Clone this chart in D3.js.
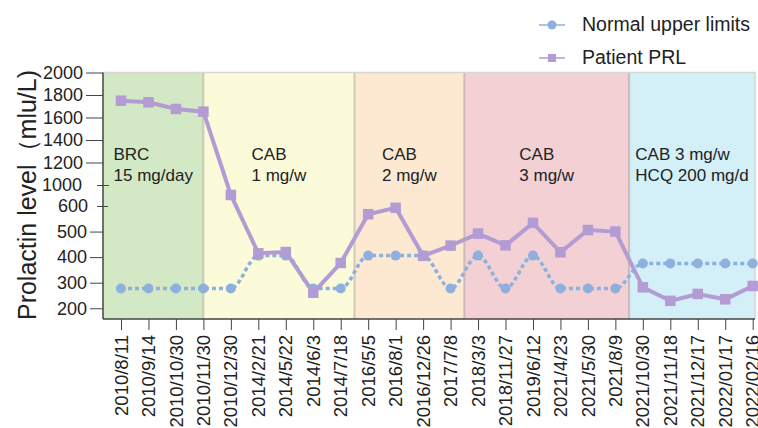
<!DOCTYPE html>
<html>
<head>
<meta charset="utf-8">
<script src="https://cdn.jsdelivr.net/npm/d3@7"></script>
<style>
body { margin: 0; background: #fff; }
text { font-family: "Liberation Sans", Arial, sans-serif; fill: #222; }
</style>
</head>
<body>
<div id="chart"></div>
<script>
// sampling dates (x categories)
var dates = ["2010/8/11", "2010/9/14", "2010/10/30", "2010/11/30", "2010/12/30",
  "2014/2/21", "2014/5/22", "2014/6/3", "2014/7/18", "2016/5/5", "2016/8/1",
  "2016/12/26", "2017/7/8", "2018/3/3", "2018/11/27", "2019/6/12", "2021/4/23",
  "2021/5/30", "2021/8/9", "2021/10/30", "2021/11/18", "2021/12/17",
  "2022/01/17", "2022/02/16"];

// mIU/L
var normalUpper = [277, 277, 277, 277, 277, 406, 406, 277, 277, 406, 406, 406,
  277, 406, 277, 406, 277, 277, 277, 375, 375, 375, 375, 375];
var patientPRL = [1749, 1735, 1676, 1652, 810, 415, 420, 261, 377, 568, 593, 405,
  445, 492, 446, 534, 419, 506, 500, 282, 229, 256, 235, 287];

// broken y axis
var yTicksLow = [200, 300, 400, 500];
var yTicksHigh = [1200, 1400, 1600, 1800, 2000];

// treatment phases; edges given as positions on the date index
var phaseLines = [["BRC", "15 mg/day"], ["CAB", "1 mg/w"], ["CAB", "2 mg/w"],
  ["CAB", "3 mg/w"], ["CAB 3 mg/w", "HCQ 200 mg/d"]];
var phaseEdges = [null, 3, 8.5, 12.5, 18.5, null];
var phaseColors = ["#d3e9c5", "#fbfad9", "#fde8d2", "#f2d0d4", "#d3eff8"];

var W = 758, H = 428;
var pLeft = 103, pRight = 755, pTop = 72.5, pBottom = 319;

var svg = d3.select("#chart").append("svg")
  .attr("width", W)
  .attr("height", H);

var x = d3.scalePoint().domain(dates).range([121, 752.7]);
var y = d3.scaleLinear().domain([158, 600, 1000, 2000]).range([pBottom, 206, 185, pTop]);

function xAt(i) {
  return x(dates[0]) + i * x.step();
}

// phase backgrounds
phaseColors.forEach(function(c, k) {
  var x0 = phaseEdges[k] === null ? pLeft : xAt(phaseEdges[k]);
  var x1 = phaseEdges[k + 1] === null ? pRight : xAt(phaseEdges[k + 1]);
  svg.append("rect")
    .attr("x", x0).attr("y", pTop)
    .attr("width", x1 - x0).attr("height", pBottom - pTop)
    .attr("fill", c);

  var g = svg.append("text").attr("font-size", "17px");
  phaseLines[k].forEach(function(t, j) {
    g.append("tspan").attr("y", 160 + j * 21).text(t);
  });
  var maxW = 0;
  g.selectAll("tspan").each(function() {
    maxW = Math.max(maxW, this.getComputedTextLength());
  });
  g.selectAll("tspan").attr("x", (x0 + x1) / 2 - maxW / 2);
});

// phase separators + frame
phaseEdges.slice(1, -1).forEach(function(e) {
  svg.append("line")
    .attr("x1", xAt(e)).attr("x2", xAt(e))
    .attr("y1", pTop).attr("y2", pBottom)
    .attr("stroke", "rgba(110,110,110,0.3)")
    .attr("stroke-width", 2);
});
svg.append("path")
  .attr("d", "M" + pLeft + "," + pTop + "H" + pRight + "V" + pBottom)
  .attr("fill", "none")
  .attr("stroke", "#d6d6d6")
  .attr("stroke-width", 1.5);

// lines
var curvedLine = d3.line()
  .x(function(d, i) { return x(dates[i]); })
  .y(function(d) { return y(d); })
  .curve(d3.curveMonotoneX);
var straightLine = d3.line()
  .x(function(d, i) { return x(dates[i]); })
  .y(function(d) { return y(d); });

svg.append("path")
  .attr("d", curvedLine(normalUpper))
  .attr("fill", "none")
  .attr("stroke", "#8db0dc")
  .attr("stroke-width", 3.5)
  .attr("stroke-dasharray", "4,3");

svg.append("path")
  .attr("d", straightLine(patientPRL))
  .attr("fill", "none")
  .attr("stroke", "#b39bd3")
  .attr("stroke-width", 4);

svg.selectAll(".nu")
  .data(normalUpper)
  .enter().append("circle")
  .attr("class", "nu")
  .attr("cx", function(d, i) { return x(dates[i]); })
  .attr("cy", function(d) { return y(d); })
  .attr("r", 5)
  .attr("fill", "#8db0dc");

var sq = 10.5;
svg.selectAll(".pr")
  .data(patientPRL)
  .enter().append("rect")
  .attr("class", "pr")
  .attr("x", function(d, i) { return x(dates[i]) - sq / 2; })
  .attr("y", function(d) { return y(d) - sq / 2; })
  .attr("width", sq).attr("height", sq)
  .attr("fill", "#b39bd3");

// axes
var axisColor = "#444";

var xAxis = svg.append("g")
  .attr("transform", "translate(0," + pBottom + ")")
  .call(d3.axisBottom(x).tickSize(11).tickSizeOuter(0));
xAxis.select(".domain").remove();
xAxis.selectAll("line").attr("stroke", axisColor);
xAxis.selectAll("text")
  .attr("font-size", "18.5px")
  .attr("fill", "#222")
  .attr("transform", "rotate(-90)")
  .attr("text-anchor", "end")
  .attr("x", -16)
  .attr("y", 0)
  .attr("dy", "0.33em");

function yAxis(values, size, pad, xpos) {
  var g = svg.append("g")
    .attr("transform", "translate(" + xpos + ",0)")
    .call(d3.axisLeft(y).tickValues(values).tickSize(size).tickPadding(pad)
      .tickFormat(d3.format("d")));
  g.select(".domain").remove();
  g.selectAll("line").attr("stroke", axisColor);
  g.selectAll("text").attr("font-size", "18px").attr("fill", "#222");
  return g;
}
yAxis(yTicksLow, 13, 3, pLeft);
yAxis(yTicksHigh, 17, 3, pLeft);
yAxis([600], 11, 9, 108);
yAxis([1000], 12, 15, 109);

svg.append("line")
  .attr("x1", pLeft).attr("x2", pLeft)
  .attr("y1", pTop).attr("y2", pBottom)
  .attr("stroke", axisColor).attr("stroke-width", 1.5);
svg.append("line")
  .attr("x1", pLeft).attr("x2", pRight)
  .attr("y1", pBottom).attr("y2", pBottom)
  .attr("stroke", axisColor).attr("stroke-width", 1.5);

svg.append("text")
  .attr("transform", "translate(36,195) rotate(-90)")
  .attr("text-anchor", "middle")
  .attr("font-size", "25px")
  .text("Prolactin level（mlu/L)");

// legend
var legend = svg.append("g");
legend.append("line")
  .attr("x1", 539).attr("x2", 565).attr("y1", 25).attr("y2", 25)
  .attr("stroke", "#8db0dc").attr("stroke-width", 1.5);
legend.append("circle")
  .attr("cx", 552).attr("cy", 25).attr("r", 4.5)
  .attr("fill", "#8db0dc");
legend.append("text")
  .attr("x", 582).attr("y", 30.5)
  .attr("font-size", "19.5px")
  .text("Normal upper limits");

legend.append("line")
  .attr("x1", 539).attr("x2", 565).attr("y1", 58).attr("y2", 58)
  .attr("stroke", "#b39bd3").attr("stroke-width", 1.5);
legend.append("rect")
  .attr("x", 548).attr("y", 54).attr("width", 8).attr("height", 8)
  .attr("fill", "#b39bd3");
legend.append("text")
  .attr("x", 582).attr("y", 64)
  .attr("font-size", "19.5px")
  .text("Patient PRL");
</script>
</body>
</html>
